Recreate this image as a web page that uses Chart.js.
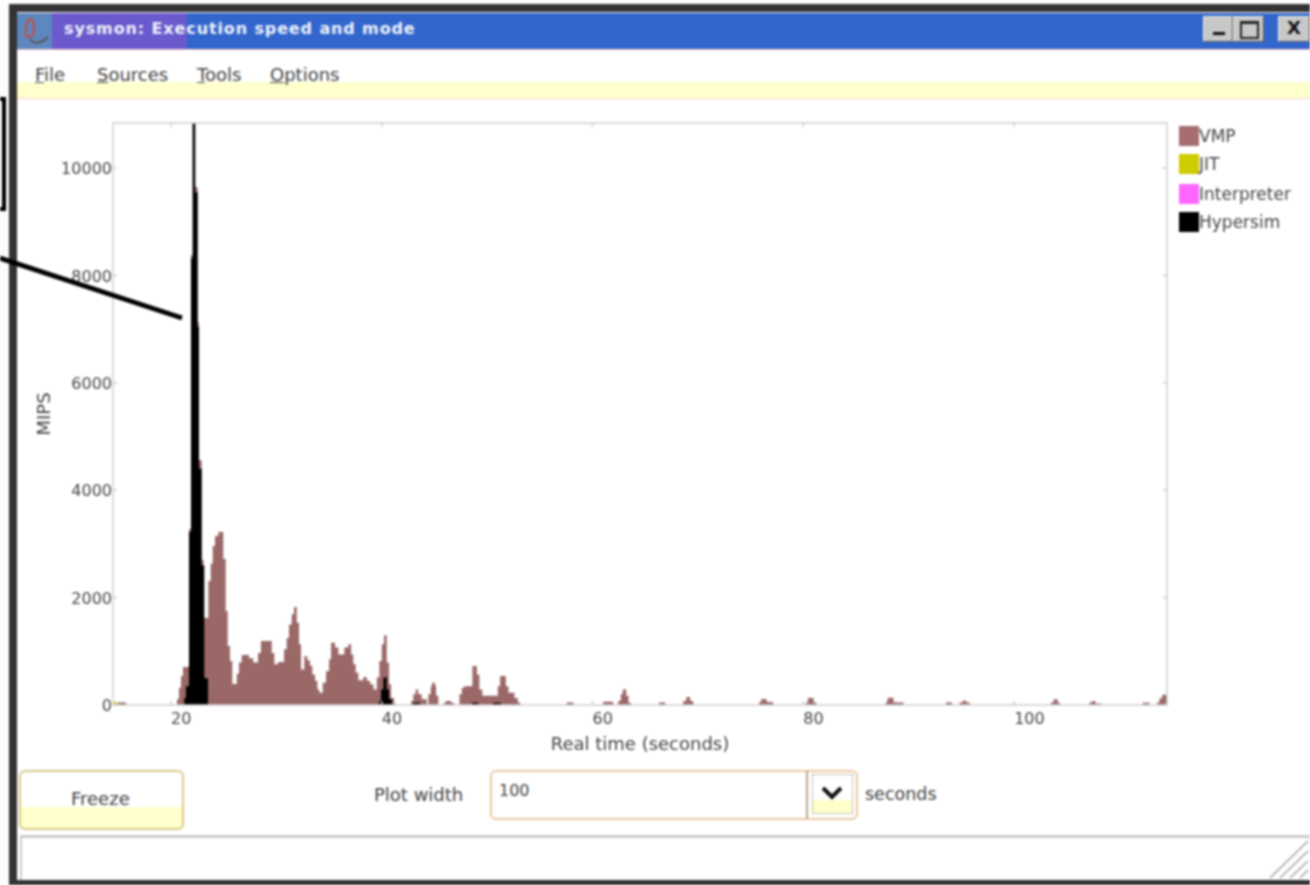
<!DOCTYPE html>
<html>
<head>
<meta charset="utf-8">
<title>sysmon</title>
<script src="https://cdn.jsdelivr.net/npm/chart.js@4"></script>
<style>
html, body { margin: 0; padding: 0; background: #fff; overflow: hidden; }
#page { position: relative; width: 1310px; height: 885px; overflow: hidden; background: #fbfdfb; filter: blur(0.9px); font-family: "DejaVu Sans", sans-serif; color: #333; }
#page div, #page span, #page svg, #page canvas { position: absolute; }
#page u { position: static; }
#frame { left: 9px; top: 4px; width: 1301px; height: 881px; background: #333; }
#win { left: 17px; top: 12px; width: 1293px; height: 868px; background: #fff; }
#titlebar { left: 17px; top: 13px; width: 1293px; height: 36px; background: #3366cc; }
#titlepurple { left: 17px; top: 13px; width: 170px; height: 36px; background: #6a5acd; }
#titleicon { left: 17px; top: 13px; width: 35px; height: 36px; background: #5f87bf; }
#titletext { left: 64px; top: 19px; font-size: 16px; font-weight: bold; color: #eef2fa; letter-spacing: 0.88px; white-space: nowrap; }
#redline { left: 17px; top: 49px; width: 1293px; height: 1px; background: #f3c4c4; }
#menuyellow { left: 17px; top: 82px; width: 1293px; height: 16px; background: #ffffcc; }
#menuline { left: 17px; top: 98px; width: 1293px; height: 1px; background: #f8d0c8; }
.menu { top: 64px; font-size: 18px; color: #444; white-space: nowrap; }
.winbtn { top: 16px; height: 26px; background: #c8c8c8; border: 1px solid #eee; border-right-color: #555; border-bottom-color: #555; box-sizing: border-box; }
.btnglyph { left: 0; right: 0; top: 0; text-align: center; font-weight: bold; color: #111; }
.label { font-size: 18px; color: #444; white-space: nowrap; }
#legend { left: 1179px; top: 126px; width: 125px; height: 110px; }
.lgswatch { left: 0; width: 20px; height: 20px; }
.lgtext { left: 20px; font-size: 17px; color: #444; white-space: nowrap; }
#freeze { left: 19px; top: 770px; width: 165px; height: 60px; border: 2px solid #d8c88c; border-radius: 6px; box-sizing: border-box; background: linear-gradient(#fff 0, #fff 62%, #ffffcc 62%, #ffffcc 100%); }
#combo { left: 490px; top: 770px; width: 368px; height: 50px; border: 2px solid #ebc8a0; border-radius: 6px; box-sizing: border-box; background: #fff; }
#combosep { left: 806px; top: 771px; width: 2px; height: 48px; background: #b8a888; }
#arrowbtn { left: 812px; top: 774px; width: 41px; height: 40px; border: 1px dotted #888; box-sizing: border-box; background: linear-gradient(#fff 0, #fff 66%, #ffffcc 66%, #ffffcc 100%); }
#status { left: 20px; top: 835px; width: 1290px; height: 45px; border-top: 3px solid #ccc; border-left: 2px solid #ccc; box-sizing: border-box; background: #fff; }
</style>
</head>
<body>
<div id="page">
  <div id="frame"></div>
  <div id="win"></div>
  <div id="titlebar"></div>
  <div id="titlepurple"></div>
  <div id="titleicon"></div>
  <svg style="left:20px;top:15px" width="32" height="32">
    <path d="M6 22 C4 12 8 4 11 4 C14 5 15 14 13 20 C9 22 7 22 6 22" fill="none" stroke="#c05040" stroke-width="2"/>
    <path d="M10 24 C14 30 22 28 28 22" fill="none" stroke="#555" stroke-width="2"/>
  </svg>
  <div id="titletext">sysmon: Execution speed and mode</div>
  <div id="redline"></div>
  <div id="menuyellow"></div>
  <div id="menuline"></div>
  <div class="menu" style="left:35px"><u>F</u>ile</div>
  <div class="menu" style="left:97px"><u>S</u>ources</div>
  <div class="menu" style="left:197px"><u>T</u>ools</div>
  <div class="menu" style="left:270px"><u>O</u>ptions</div>
  <div class="winbtn" style="left:1203px;width:30px"><div style="left:9px;top:15px;width:12px;height:3px;background:#111"></div></div>
  <div class="winbtn" style="left:1233px;width:31px"><div style="left:6px;top:4px;width:15px;height:13px;border:2px solid #222;border-top-width:3px"></div></div>
  <div class="winbtn" style="left:1278px;width:32px"><div class="btnglyph" style="font-size:18px;top:0">X</div></div>

  <canvas id="myChart" width="1280" height="660" style="left:20px;top:100px"></canvas>
  <div id="legend"></div>

  <div id="freeze"></div>
  <div class="label" style="left:71px;top:788px">Freeze</div>
  <div class="label" style="left:374px;top:784px">Plot width</div>
  <div id="combo"></div>
  <div class="label" style="left:499px;top:781px;font-size:16px">100</div>
  <div id="combosep"></div>
  <div id="arrowbtn"></div>
  <svg style="left:820px;top:786px" width="24" height="14"><path d="M3 2 L12 11 L21 2" fill="none" stroke="#111" stroke-width="4"/></svg>
  <div class="label" style="left:865px;top:784px;font-size:17.5px">seconds</div>
  <div id="status"></div>
  <svg style="left:1266px;top:838px" width="44" height="42">
    <path d="M4 40 L42 3 M14 40 L42 13 M24 40 L42 23 M34 40 L42 32" stroke="#bbb" stroke-width="2"/>
  </svg>

  <svg style="left:0;top:0;pointer-events:none" width="1310" height="885">
    <path d="M0 99 L4 99 L4 209 L0 209" fill="none" stroke="#000" stroke-width="4"/>
    <line x1="0" y1="258" x2="182" y2="318" stroke="#000" stroke-width="5"/>
  </svg>
</div>

<script>
// values, each time is where the step starts
const seriesNames = ['VMP', 'JIT', 'Interpreter', 'Hypersim'];
const seriesColors = ['#9b6868', '#cccc00', '#ff66ff', '#000000'];
const legendColors = ['#a66e6e', '#cccc00', '#ff66ff', '#000000'];

const vmpTimes = [14.5, 14.92, 15.73, 20.57, 20.76, 20.95, 21.14, 21.71, 21.90, 22.06, 22.30, 22.53, 22.66, 22.91, 23.10,
    23.54, 23.77, 23.96, 24.18, 24.49, 24.96, 25.19, 25.38, 25.60, 25.82, 26.24, 26.45, 26.71, 27.40, 27.81, 28.26, 28.54,
    29.56, 29.81, 30.16, 30.73, 30.98, 31.20, 31.46, 31.68, 31.93, 32.15, 32.34, 32.65, 32.94, 33.19, 33.41, 33.67, 33.89,
    34.08, 34.40, 34.71, 35.00, 35.19, 35.57, 35.88, 36.45, 36.83, 37.09, 37.30, 37.53, 37.78, 38.25, 38.58, 38.89, 39.21,
    39.53, 39.77, 40.00, 40.22, 40.47, 40.69, 40.88, 41.17, 41.36, 42.78, 42.99, 43.22, 43.46, 43.79, 44.27, 44.42, 44.65,
    44.77, 45.06, 45.15, 45.37, 45.91, 46.10, 46.58, 46.86, 47.37, 47.60, 47.84, 48.60, 49.02, 49.26, 49.54, 51.01, 51.23,
    51.77, 52.02, 52.59, 52.91, 53.13, 57.56, 58.19, 61.01, 61.95, 62.43, 62.68, 62.87, 63.19, 63.41, 63.64, 66.32, 66.89,
    68.60, 68.89, 69.26, 69.55, 75.81, 76.00, 76.52, 77.11, 80.27, 80.43, 80.97, 81.22, 87.84, 88.00, 88.56, 89.51, 93.53,
    94.10, 94.83, 95.15, 95.44, 95.78, 103.50, 103.75, 104.13, 104.32, 107.14, 107.39, 107.71, 108.28, 112.20, 112.83,
    113.56, 113.78, 114.04, 114.5];
const vmpMips = [0, 45, 0, 105, 320, 540, 710, 3280, 8380, 11000, 9650, 7120, 4560, 2700, 1620,
    2310, 2630, 2960, 3150, 3220, 2720, 1750, 1100, 820, 390, 580, 790, 930, 870, 790, 970, 1190,
    970, 760, 800, 1040, 1250, 1500, 1690, 1825, 1530, 1130, 660, 910, 830, 730, 570, 450, 290,
    230, 415, 630, 850, 1160, 1070, 940, 1070, 1130, 940, 760, 600, 460, 520, 450, 385, 290,
    510, 820, 1130, 1300, 790, 385, 130, 25, 0, 75, 200, 290, 200, 105, 0, 200, 350,
    415, 350, 170, 0, 45, 75, 40, 0, 200, 320, 350, 725, 570, 290, 170, 350, 540,
    350, 230, 130, 45, 0, 45, 0, 60, 0, 75, 200, 290, 170, 40, 0, 45, 0,
    75, 150, 75, 0, 55, 110, 55, 0, 45, 130, 45, 0, 60, 135, 45, 0, 45,
    0, 45, 85, 45, 0, 45, 105, 45, 0, 45, 75, 30, 0, 40, 0,
    45, 125, 190, 190];

const hypersimTimes = [14.5, 21.26, 21.42, 21.71, 21.90, 22.06, 22.30, 22.53, 22.66, 22.91, 23.16, 23.51,
    39.74, 39.93, 40.15, 40.47, 40.69, 40.95, 42.97, 43.63, 48.57, 49.14, 50.56, 51.30, 114.5];
const hypersimMips = [0, 130, 350, 3220, 8320, 11000, 9550, 7040, 4400, 2600, 500, 0,
    75, 290, 510, 290, 105, 0, 40, 0, 40, 0, 40, 0, 0];

const jitTimes = [14.5, 14.83, 114.5];
const jitMips = [60, 0, 0];

const interpreterTimes = [14.5, 114.5];
const interpreterMips = [0, 0];

const xTicks = [20, 40, 60, 80, 100];
const yTicks = [0, 2000, 4000, 6000, 8000, 10000];

function toPoints(times, values) {
    return times.map((t, i) => ({ x: t, y: values[i] }));
}

function makeDataset(index, times, values, order) {
    return {
        label: seriesNames[index],
        data: toPoints(times, values),
        backgroundColor: seriesColors[index],
        borderColor: seriesColors[index],
        borderWidth: 0,
        pointRadius: 0,
        stepped: true,
        fill: 'origin',
        order: order
    };
}

// border round the plot with small ticks pointing inwards on all four sides
const plotFrame = {
    id: 'plotFrame',
    afterDatasetsDraw(chart) {
        const a = chart.chartArea;
        const c = chart.ctx;
        c.save();
        c.strokeStyle = '#cfcfcf';
        c.lineWidth = 1.5;
        c.strokeRect(a.left, a.top, a.right - a.left, a.bottom - a.top);
        c.beginPath();
        xTicks.forEach(v => {
            const px = chart.scales.x.getPixelForValue(v);
            c.moveTo(px, a.top); c.lineTo(px, a.top + 4);
            c.moveTo(px, a.bottom); c.lineTo(px, a.bottom - 4);
        });
        yTicks.forEach(v => {
            const py = chart.scales.y.getPixelForValue(v);
            c.moveTo(a.left, py); c.lineTo(a.left + 4, py);
            c.moveTo(a.right, py); c.lineTo(a.right - 4, py);
        });
        c.stroke();
        c.restore();
    }
};

const ctx = document.getElementById('myChart').getContext('2d');
const myChart = new Chart(ctx, {
    type: 'line',
    data: {
        datasets: [
            makeDataset(0, vmpTimes, vmpMips, 3),
            makeDataset(1, jitTimes, jitMips, 2),
            makeDataset(2, interpreterTimes, interpreterMips, 1),
            makeDataset(3, hypersimTimes, hypersimMips, 0)
        ]
    },
    options: {
        responsive: false,
        animation: false,
        layout: { padding: { top: 23, right: 133, left: 0, bottom: 0 } },
        plugins: { legend: { display: false }, tooltip: { enabled: false } },
        scales: {
            x: {
                type: 'linear',
                min: 14.5,
                max: 114.5,
                afterBuildTicks: s => { s.ticks = xTicks.map(v => ({ value: v })); },
                afterFit: s => { s.height = 55; },
                grid: { display: false, drawTicks: false },
                border: { display: false },
                ticks: { align: 'start', padding: 5, maxRotation: 0, autoSkip: false, color: '#444', font: { family: 'DejaVu Sans', size: 16 }, callback: v => String(v) },
                title: { display: true, text: 'Real time (seconds)', color: '#444', font: { family: 'DejaVu Sans', size: 18 }, padding: { top: 0, bottom: 4 } }
            },
            y: {
                min: 0,
                max: 10840,
                afterBuildTicks: s => { s.ticks = yTicks.map(v => ({ value: v })); },
                afterFit: s => { s.width = 93; },
                grid: { display: false, drawTicks: false },
                border: { display: false },
                ticks: { padding: 1, labelOffset: 2, color: '#444', font: { family: 'DejaVu Sans', size: 16 }, callback: v => String(v) },
                title: { display: true, text: 'MIPS', color: '#444', font: { family: 'DejaVu Sans', size: 18 }, padding: { top: 15, bottom: 4 } }
            }
        }
    },
    plugins: [plotFrame]
});

// legend sits tight against the text, so it is built by hand from the datasets
const legendRows = [0, 28, 58, 86];
const legendBox = document.getElementById('legend');
myChart.data.datasets.forEach((ds, i) => {
    const sw = document.createElement('div');
    sw.className = 'lgswatch';
    sw.style.top = legendRows[i] + 'px';
    sw.style.background = legendColors[i];
    legendBox.appendChild(sw);
    const tx = document.createElement('div');
    tx.className = 'lgtext';
    tx.style.top = legendRows[i] + 'px';
    tx.textContent = ds.label;
    legendBox.appendChild(tx);
});
</script>
</body>
</html>
